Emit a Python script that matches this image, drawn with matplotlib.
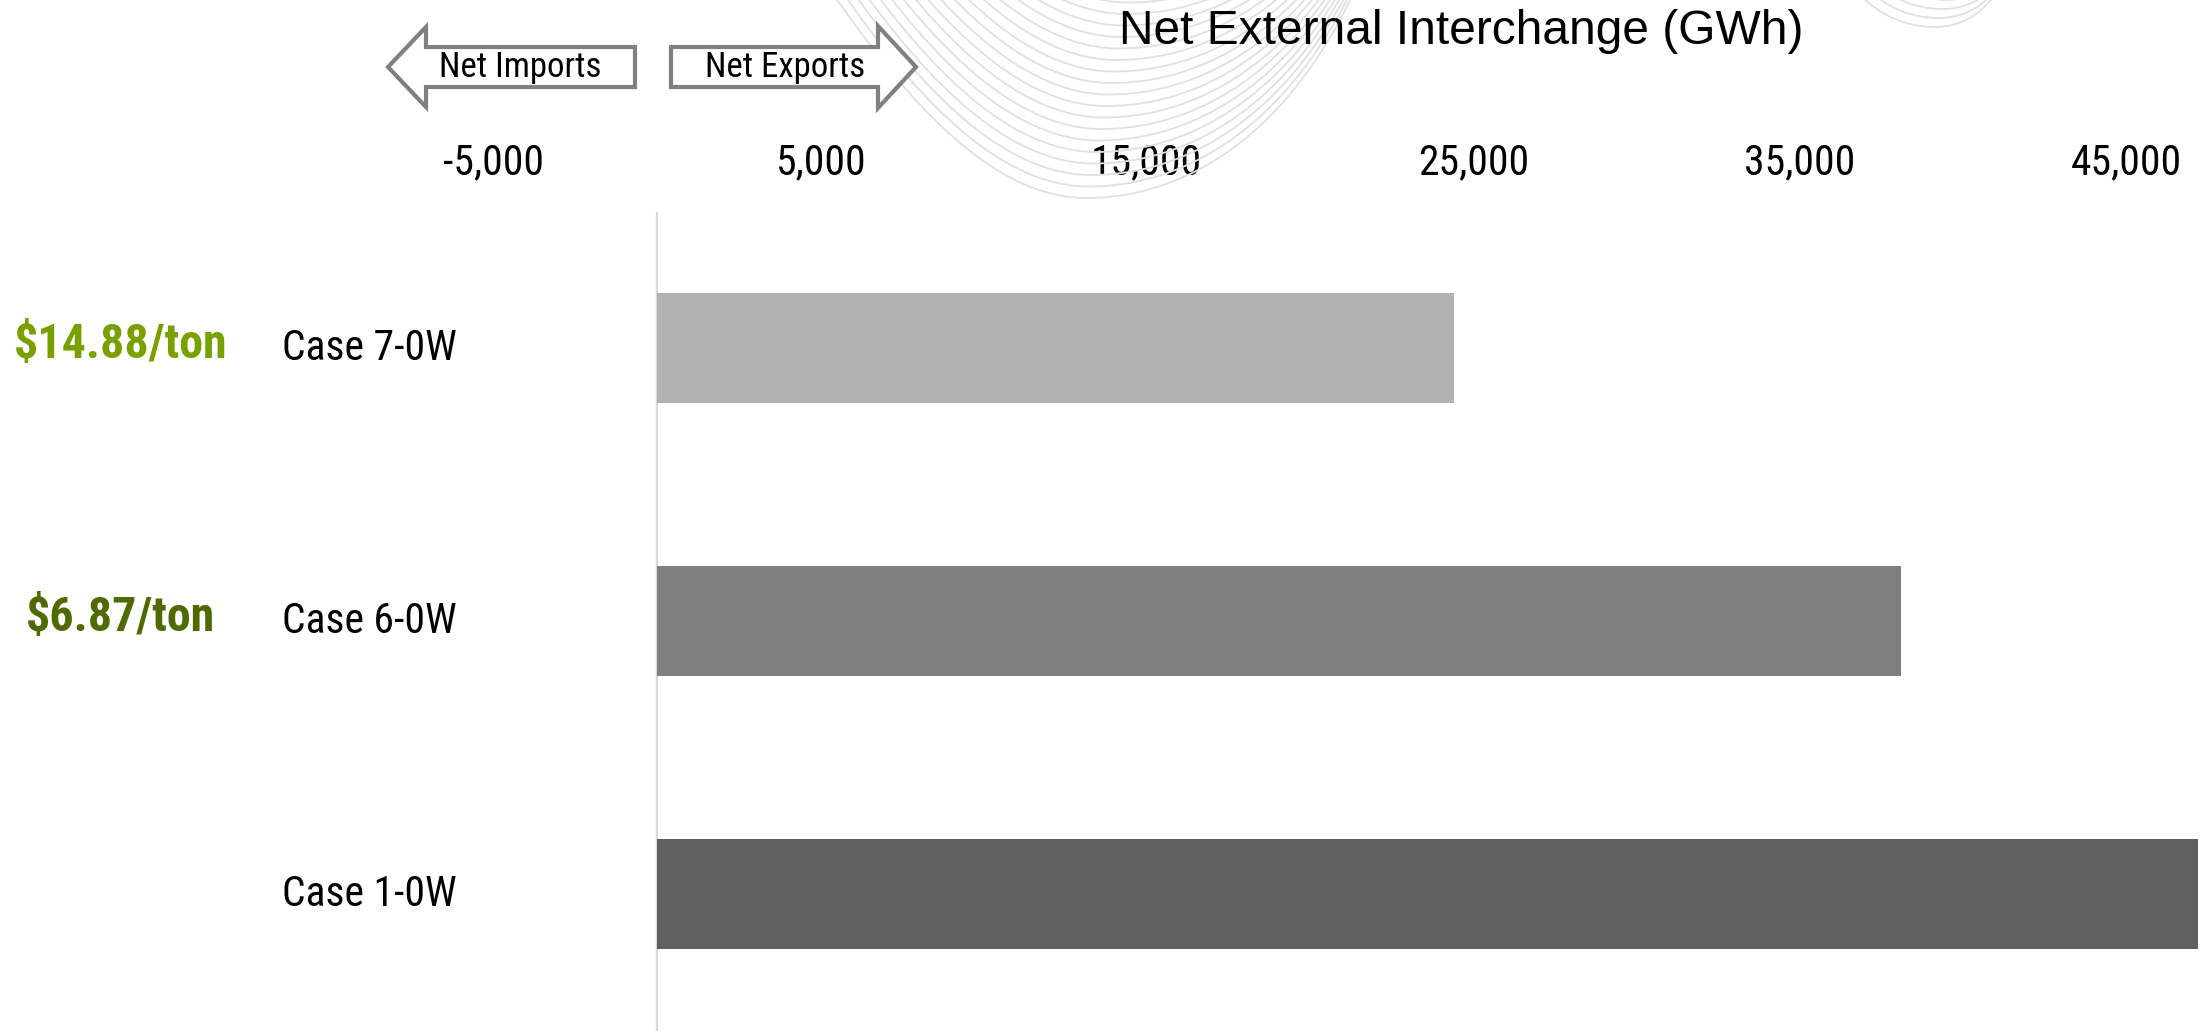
import matplotlib
matplotlib.use("Agg")
import matplotlib.pyplot as plt
import matplotlib.transforms as mtransforms
from matplotlib.patches import Polygon, PathPatch
from matplotlib.path import Path

# ---- data ----
cases = ["Case 7-0W", "Case 6-0W", "Case 1-0W"]
interchange_gwh = [24400, 38100, 47200]
bar_colors = ["#b2b2b2", "#7f7f7f", "#606060"]
price_labels = ["$14.88/ton", "$6.87/ton", ""]
price_colors = ["#78a100", "#4f6a00", "#4f6a00"]
tick_values = [-5000, 5000, 15000, 25000, 35000, 45000]

NARROW = ["Roboto Condensed", "Liberation Sans", "DejaVu Sans"]
REGULAR = ["Liberation Sans", "DejaVu Sans"]
plt.rcParams["font.family"] = REGULAR

W, H = 2202, 1034
fig = plt.figure(figsize=(W / 100, H / 100), dpi=100)
fig.patch.set_facecolor("white")


def fx(px):
    return px / W


def fy(py):
    return 1 - py / H


# ---- faint background swirls (translated copies of one curve) ----
def swirl(start, p1, p2, bottom, q1, q2, end, dx, dy):
    pts = [start, p1, p2, bottom, q1, q2, end]
    verts = [(fx(x + dx), fy(y + dy)) for x, y in pts]
    codes = [Path.MOVETO] + [Path.CURVE4] * 6
    return Path(verts, codes)


swirl_style = dict(transform=fig.transFigure, fill=False, edgecolor="#e0e0e0",
                   lw=1.3, zorder=0)

# large family behind the tick labels
for k in range(18):
    path = swirl((830, -10), (880, 60), (975, 198), (1086, 198),
                 (1190, 198), (1290, 130), (1355, -10),
                 dx=2.5 * k, dy=-11.5 * k)
    fig.patches.append(PathPatch(path, **swirl_style))

# small family at the top right
for k in range(4):
    path = swirl((1860, -5), (1880, 15), (1905, 27), (1935, 27),
                 (1960, 27), (1980, 15), (1995, -5),
                 dx=4 * k, dy=-9 * k)
    fig.patches.append(PathPatch(path, **swirl_style))

# ---- bar chart ----
ax = fig.add_axes([fx(330.5), fy(1030.5), (2201.3 - 330.5) / W, (1030.5 - 211.5) / H])
ax.patch.set_alpha(0)
ax.set_xlim(-10000, 47300)
ax.set_ylim(len(cases) - 0.5, -0.5)

ypos = list(range(len(cases)))
ax.barh(ypos, interchange_gwh, height=0.403, color=bar_colors, zorder=3)
ax.axvline(0, color="#d9d9d9", lw=1.6, zorder=2)

for side in ["top", "right", "bottom", "left"]:
    ax.spines[side].set_visible(False)

ax.xaxis.tick_top()
ax.set_xticks(tick_values)
ax.set_xticklabels([f"{v:,}" for v in tick_values], family=NARROW, fontsize=30)
ax.tick_params(axis="x", length=0, pad=20)
ax.set_yticks([])

trans = mtransforms.blended_transform_factory(fig.transFigure, ax.transData)
for i, (case, plabel, pcol) in enumerate(zip(cases, price_labels, price_colors)):
    ax.text(fx(282), i, case, transform=trans, ha="left", va="center",
            fontsize=30, family=NARROW, color="black")
    if plabel:
        ax.text(fx(121), i - 0.01, plabel, transform=trans, ha="center", va="center",
                fontsize=34.5, family=NARROW, fontweight="bold", color=pcol)

# ---- title ----
fig.text(fx(1461), fy(31), "Net External Interchange (GWh)", ha="center", va="center",
         fontsize=34.5, family=REGULAR, color="black")

# ---- direction arrows ----
imports_arrow = [(388, 67), (426, 27), (426, 47), (635, 47), (635, 87), (426, 87), (426, 107)]
exports_arrow = [(671, 47), (878, 47), (878, 26), (916, 67), (878, 108), (878, 87), (671, 87)]
for pts in (imports_arrow, exports_arrow):
    fig.patches.append(Polygon([(fx(x), fy(y)) for x, y in pts], closed=True,
                               transform=fig.transFigure, facecolor="white",
                               edgecolor="#808080", lw=3, joinstyle="miter", zorder=1))
fig.text(fx(520), fy(68), "Net Imports", ha="center", va="center",
         fontsize=25, family=NARROW, color="black", zorder=2)
fig.text(fx(785), fy(68), "Net Exports", ha="center", va="center",
         fontsize=25, family=NARROW, color="black", zorder=2)

fig.savefig("out.png", dpi=100, facecolor="white")
